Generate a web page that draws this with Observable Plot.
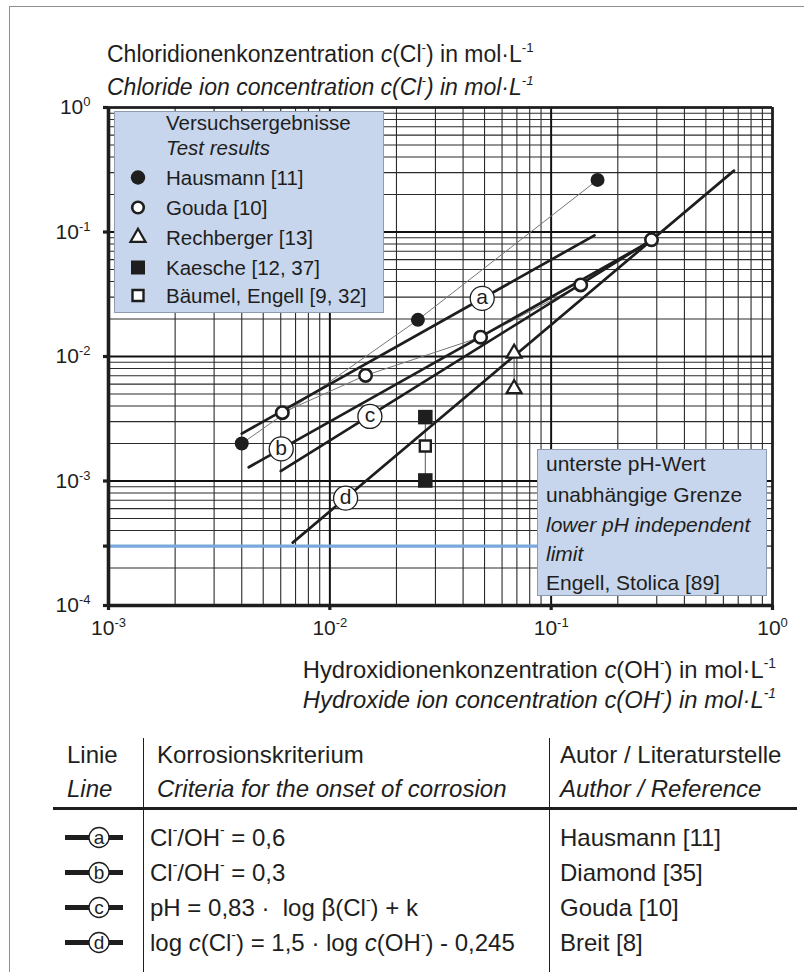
<!DOCTYPE html>
<html>
<head>
<meta charset="utf-8">
<script src="https://cdn.jsdelivr.net/npm/d3@7"></script>
<script src="https://cdn.jsdelivr.net/npm/@observablehq/plot@0.6"></script>
<style>
  body { margin: 0; background: #fff; }
  #wrap { position: relative; width: 804px; height: 972px; overflow: hidden; background: #fff;
          font-family: "Liberation Sans", Arial, Helvetica, sans-serif; color: #1e1e1e; }
  .abs { position: absolute; white-space: nowrap; }
  sup { font-size: 58%; vertical-align: 0; position: relative; top: -0.75em; }
  #chart { position: absolute; left: 0; top: 0; }
  .box { position: absolute; background: #c7d6ec; border: 1.5px solid #8d9bae; box-sizing: border-box; }
  .hl { position: absolute; background: #1e1e1e; }
</style>
</head>
<body>
<div id="wrap">
  <div id="chart"></div>
</div>
<script>
// ---------------- data ----------------
const xDomain = [1e-3, 1];
const yDomain = [1e-4, 1];
const xTicks = [1e-3, 1e-2, 1e-1, 1];
const xTickLabels = ["10^-3", "10^-2", "10^-1", "10^0"];
const yTicks = [1, 1e-1, 1e-2, 1e-3, 3e-4, 1e-4];
const yTickLabels = ["10^0", "10^-1", "10^-2", "10^-3", "3·10^-4", "10^-4"];

// test results (c(OH-), c(Cl-))
const hausmannX = [0.004, 0.025, 0.162];
const hausmannY = [0.002, 0.0197, 0.262];
const goudaX = [0.0061, 0.0145, 0.048, 0.136, 0.284];
const goudaY = [0.00354, 0.00705, 0.0143, 0.0376, 0.0867];
const rechbergerX = [0.068, 0.068];
const rechbergerY = [0.0106, 0.0055];
const kaescheX = [0.027, 0.027];
const kaescheY = [0.00326, 0.00101];
const baeumelX = [0.027];
const baeumelY = [0.00191];

// criteria lines a-d (end points)
const lineNames = ["a", "b", "c", "d"];
const lineX = [[0.004, 0.157], [0.0043, 0.284], [0.006, 0.284], [0.0068, 0.67]];
const lineY = [[0.0024, 0.094], [0.00129, 0.0852], [0.0012, 0.0862], [0.00032, 0.311]];
// label positions on the lines
const labelX = [0.0488, 0.00603, 0.01517, 0.01178];
const labelY = [0.0293, 0.00181, 0.0033, 0.000728];

// lower pH independent limit
const limitY = 3e-4;
const limitX = [1e-3, 0.087];

// texts
const legendTitle = ["Versuchsergebnisse", "Test results"];
const legendNames = ["Hausmann [11]", "Gouda [10]", "Rechberger [13]", "Kaesche [12, 37]", "Bäumel, Engell [9, 32]"];
const legendSymbols = ["filledCircle", "openCircle", "openTriangle", "filledSquare", "openSquare"];
const noteLines = ["unterste pH-Wert", "unabhängige Grenze", "<i>lower pH independent</i>", "<i>limit</i>", "Engell, Stolica [89]"];
const tableHeader = [["Linie", "Korrosionskriterium", "Autor / Literaturstelle"],
                     ["Line", "Criteria for the onset of corrosion", "Author / Reference"]];
const tableCriteria = ["Cl<sup>-</sup>/OH<sup>-</sup> = 0,6",
                       "Cl<sup>-</sup>/OH<sup>-</sup> = 0,3",
                       "pH = 0,83 ·&nbsp; log β(Cl<sup>-</sup>) + k",
                       "log <i>c</i>(Cl<sup>-</sup>) = 1,5 · log <i>c</i>(OH<sup>-</sup>) - 0,245"];
const tableAuthors = ["Hausmann [11]", "Diamond [35]", "Gouda [10]", "Breit [8]"];

// ---------------- tables for Plot ----------------
const pts = (xs, ys) => xs.map((x, i) => ({x, y: ys[i]}));
const hausmann = pts(hausmannX, hausmannY);
const gouda = pts(goudaX, goudaY);
const rechberger = pts(rechbergerX, rechbergerY);
const kaesche = pts(kaescheX, kaescheY);
const baeumel = pts(baeumelX, baeumelY);
const squaresLink = pts([...kaescheX, ...baeumelX], [...kaescheY, ...baeumelY]).sort((a, b) => b.y - a.y);
const criteria = lineNames.flatMap((n, i) => lineX[i].map((x, j) => ({line: n, x, y: lineY[i][j]})));
const labels = lineNames.map((n, i) => ({name: n, x: labelX[i], y: labelY[i]}));
const limitRule = [{y: limitY, x1: limitX[0], x2: limitX[1]}];

const xGrid = d3.scaleLog().domain(xDomain).ticks();
const yGrid = d3.scaleLog().domain(yDomain).ticks();

const FONT = '"Liberation Sans", Arial, Helvetica, sans-serif';
const INK = "#1e1e1e";

const chart = Plot.plot({
  width: 804, height: 660,
  marginLeft: 108, marginRight: 32, marginTop: 107, marginBottom: 55,
  style: {fontFamily: FONT, fontSize: "21px", color: INK, background: "transparent", overflow: "visible"},
  x: {type: "log", domain: xDomain, ticks: xTicks, tickFormat: d => xTickLabels[xTicks.indexOf(d)],
      tickSize: 5, tickPadding: 10, label: null},
  y: {type: "log", domain: yDomain, ticks: yTicks, tickFormat: d => yTickLabels[yTicks.indexOf(d)],
      tickSize: 5, tickPadding: 13, label: null},
  marks: [
    Plot.ruleX(xGrid, {stroke: "#2b2b2b", strokeWidth: 1.1}),
    Plot.ruleY(yGrid, {stroke: "#2b2b2b", strokeWidth: 1.1}),
    Plot.ruleX(xTicks, {stroke: "#111", strokeWidth: 1.9}),
    Plot.ruleY(yTicks.filter(d => d !== limitY), {stroke: "#111", strokeWidth: 1.9}),
    Plot.ruleY(limitRule, {y: "y", x1: "x1", x2: "x2", stroke: "#7aa7dc", strokeWidth: 3.4}),
    Plot.line(hausmann, {x: "x", y: "y", stroke: "#777", strokeWidth: 1}),
    Plot.line(gouda, {x: "x", y: "y", stroke: "#777", strokeWidth: 1}),
    Plot.line(rechberger, {x: "x", y: "y", stroke: "#555", strokeWidth: 1}),
    Plot.line(squaresLink, {x: "x", y: "y", stroke: "#555", strokeWidth: 1}),
    Plot.line(criteria, {x: "x", y: "y", z: "line", stroke: INK, strokeWidth: 2.7}),
    Plot.ruleX([xDomain[0]], {stroke: INK, strokeWidth: 3.6}),
    Plot.ruleY([yDomain[0]], {stroke: INK, strokeWidth: 3.6}),
    Plot.ruleX([xDomain[1]], {stroke: INK, strokeWidth: 2.6}),
    Plot.ruleY([yDomain[1]], {stroke: INK, strokeWidth: 2.6}),
    Plot.dot(hausmann, {x: "x", y: "y", r: 7, fill: INK}),
    Plot.dot(gouda, {x: "x", y: "y", r: 6.2, fill: "white", stroke: INK, strokeWidth: 2.6}),
    Plot.dot(rechberger, {x: "x", y: "y", symbol: "triangle", r: 5.6, fill: "white", stroke: INK, strokeWidth: 2.2}),
    Plot.dot(kaesche, {x: "x", y: "y", symbol: "square", r: 8.2, fill: INK}),
    Plot.dot(baeumel, {x: "x", y: "y", symbol: "square", r: 6.2, fill: "white", stroke: INK, strokeWidth: 2.4}),
    Plot.dot(labels, {x: "x", y: "y", r: 12, fill: "white", stroke: INK, strokeWidth: 1.3}),
    Plot.text(labels, {x: "x", y: "y", text: "name", fontSize: 21, fill: INK, dy: -1})
  ]
});

// superscripts in tick labels, thick tick marks
const svgSel = d3.select(chart);
svgSel.selectAll('g[aria-label$="tick label"]')
  .attr("fill", INK).attr("font-size", 21).style("font-size", "21px");
svgSel.selectAll("text").each(function() {
  const t = this.textContent;
  if (!t.includes("^")) return;
  const [base, exp] = t.split("^");
  const s = d3.select(this);
  s.style("font-size", "21px");
  s.text(null);
  s.append("tspan").text(base);
  s.append("tspan").attr("dy", "-0.62em").style("font-size", "13px").text(exp);
});
svgSel.selectAll('g[aria-label$="axis tick"] path, g[aria-label$="axis tick"] line')
  .attr("stroke-width", 3.2).attr("stroke", INK);

document.getElementById("chart").appendChild(chart);

// ---------------- HTML overlays ----------------
const wrap = document.getElementById("wrap");
function put(html, x, base, size, opt = {}) {
  const d = document.createElement("div");
  d.className = "abs";
  d.style.fontSize = size + "px";
  d.style.lineHeight = size + "px";
  d.style.top = (base - 0.8465 * size) + "px";
  if (opt.anchor === "end") d.style.right = (804 - x) + "px"; else d.style.left = x + "px";
  if (opt.italic) d.style.fontStyle = "italic";
  d.innerHTML = html;
  wrap.appendChild(d);
  return d;
}
function rect(cls, l, t, w, h) {
  const d = document.createElement("div");
  d.className = cls;
  Object.assign(d.style, {left: l + "px", top: t + "px", width: w + "px", height: h + "px"});
  wrap.appendChild(d);
  return d;
}

// outer frame (left & top edges visible)
const fr = rect("abs", 9, 6, 900, 1000);
fr.style.borderLeft = "1.5px solid #8e8e8e";
fr.style.borderTop = "1.5px solid #8e8e8e";

// y axis title
put("Chloridionenkonzentration <i>c</i>(Cl<sup>-</sup>) in mol·L<sup>-1</sup>", 107, 62, 23);
put("Chloride ion concentration c(Cl<sup>-</sup>) in mol·L<sup>-1</sup>", 107, 95, 23, {italic: true});

// x axis title
put("Hydroxidionenkonzentration <i>c</i>(OH<sup>-</sup>) in mol·L<sup>-1</sup>", 776, 678, 23.8, {anchor: "end"});
put("Hydroxide ion concentration c(OH<sup>-</sup>) in mol·L<sup>-1</sup>", 776, 708, 23.8, {anchor: "end", italic: true});

// legend box
rect("box", 114, 111, 270, 202);
const legBase = [130, 155, 185, 215, 245, 275, 303];
put(legendTitle[0], 166, legBase[0], 20.5);
put(legendTitle[1], 166, legBase[1], 20.5, {italic: true});
legendNames.forEach((n, i) => put(n, 166, legBase[i + 2], 20.5));

// note box
rect("box", 537, 449, 230, 147);
const noteBase = [471, 502, 532, 561, 590];
noteLines.forEach((n, i) => put(n, 546, noteBase[i], 21));

// table
const hdrBase = [763, 797];
const colX = [67, 157, 560];
tableHeader.forEach((row, r) => row.forEach((t, c) => put(t, colX[c], hdrBase[r], 24, {italic: r === 1})));
rect("hl", 53, 806.5, 744, 3);
rect("hl", 142.5, 738, 1.6, 240);
rect("hl", 548.5, 738, 1.6, 240);
const rowBase = [846, 881, 916, 951];
tableCriteria.forEach((t, i) => put(t, 150, rowBase[i], 24));
tableAuthors.forEach((t, i) => put(t, 560, rowBase[i], 24));

// symbols overlay (legend + table)
const ov = d3.select(wrap).append("svg")
  .attr("width", 804).attr("height", 972)
  .style("position", "absolute").style("left", 0).style("top", 0).style("pointer-events", "none");
const symDefs = {
  filledCircle: {type: d3.symbolCircle, size: Math.PI * 7.2 * 7.2, fill: INK, stroke: "none", sw: 0},
  openCircle: {type: d3.symbolCircle, size: Math.PI * 5.8 * 5.8, fill: "white", stroke: INK, sw: 2.6},
  openTriangle: {type: d3.symbolTriangle, size: Math.PI * 5.6 * 5.6, fill: "white", stroke: INK, sw: 2.2},
  filledSquare: {type: d3.symbolSquare, size: 14 * 14, fill: INK, stroke: "none", sw: 0},
  openSquare: {type: d3.symbolSquare, size: 11 * 11, fill: "white", stroke: INK, sw: 2.4}
};
legendSymbols.forEach((s, i) => {
  const def = symDefs[s];
  ov.append("path")
    .attr("d", d3.symbol(def.type, def.size)())
    .attr("transform", `translate(138,${legBase[i + 2] - 7.5})`)
    .attr("fill", def.fill).attr("stroke", def.stroke).attr("stroke-width", def.sw);
});
lineNames.forEach((n, i) => {
  const cy = rowBase[i] - 8.5;
  ov.append("line").attr("x1", 65).attr("x2", 123).attr("y1", cy).attr("y2", cy)
    .attr("stroke", INK).attr("stroke-width", 5);
  ov.append("circle").attr("cx", 99).attr("cy", cy).attr("r", 10)
    .attr("fill", "white").attr("stroke", INK).attr("stroke-width", 1.3);
  ov.append("text").attr("x", 99).attr("y", cy).attr("dy", "0.34em").attr("text-anchor", "middle")
    .attr("font-family", FONT).attr("font-size", 19).attr("fill", INK).text(n);
});
</script>
</body>
</html>
